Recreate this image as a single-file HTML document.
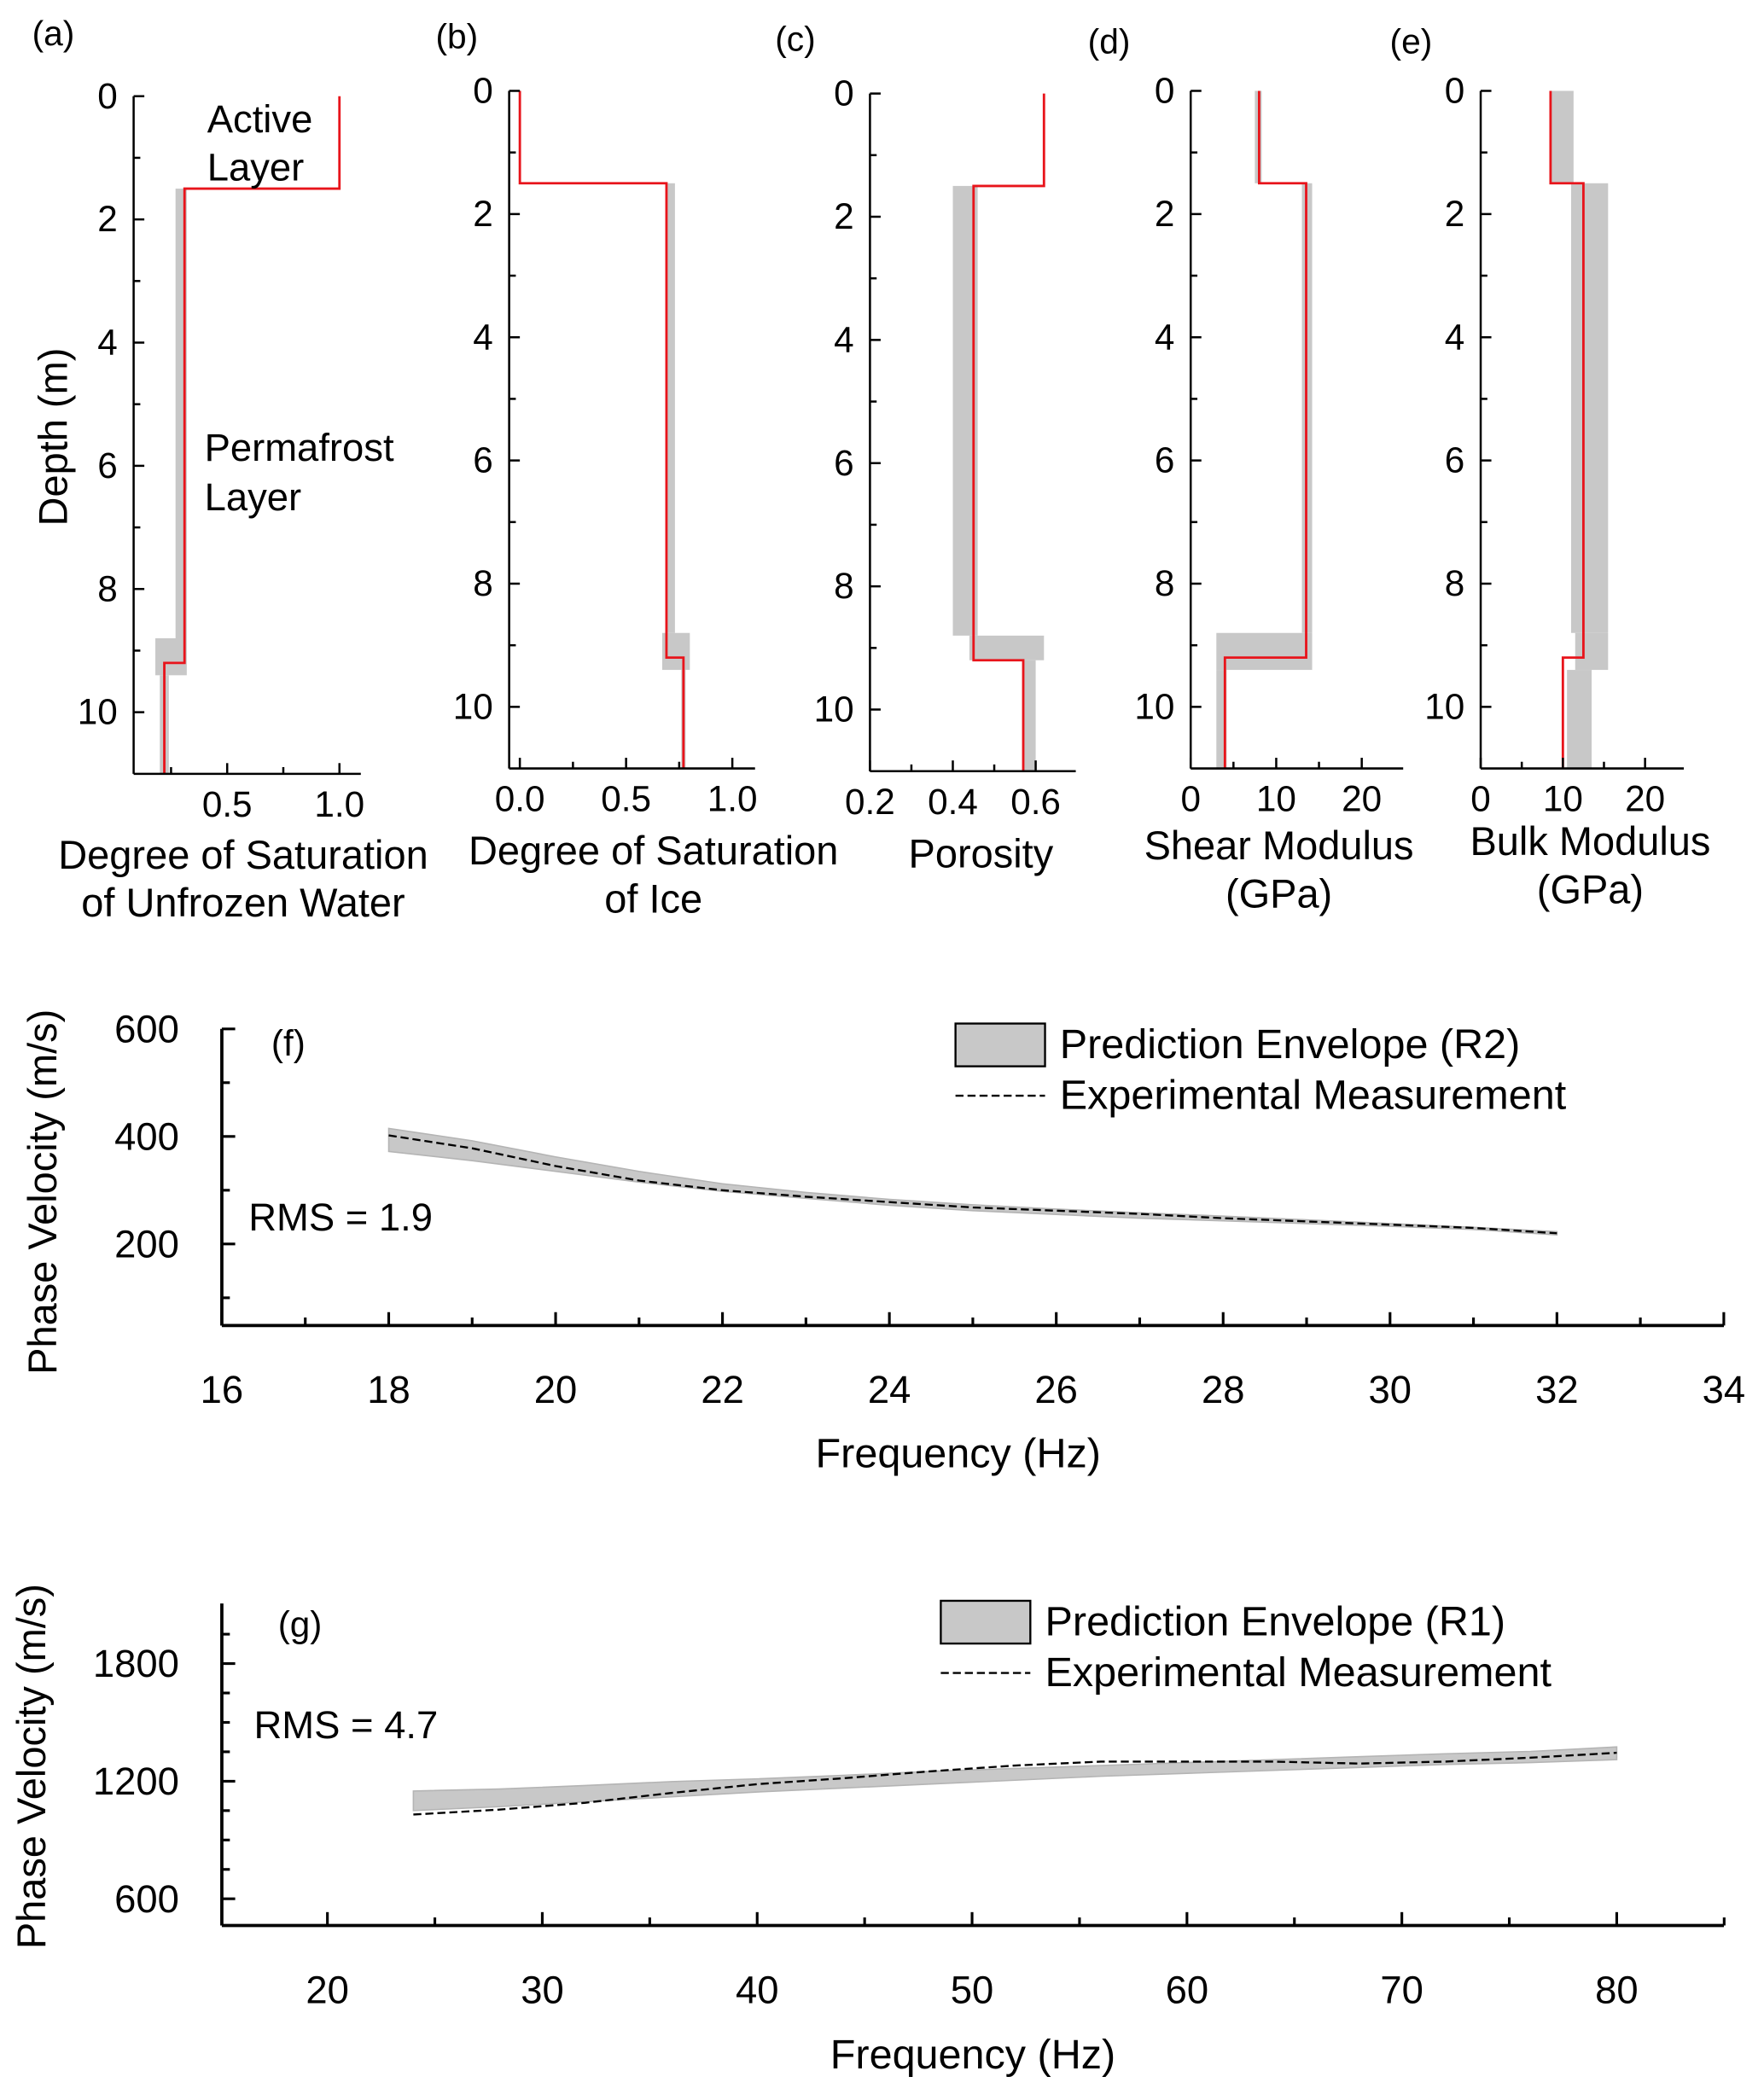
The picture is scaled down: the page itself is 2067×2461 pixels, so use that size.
<!DOCTYPE html>
<html><head><meta charset="utf-8"><style>
html,body{margin:0;padding:0;background:#fff}
svg{display:block;font-family:"Liberation Sans",Arial,sans-serif}
</style></head><body>
<svg id="fig" width="2067" height="2461" viewBox="0 0 1320 1571.6" xmlns="http://www.w3.org/2000/svg"></svg>
<script>
// ---- profile data (depth boundaries) ----
const depthTicks=[0,2,4,6,8,10];
// red step profiles: values for layers [0-1.5],[1.5-9.2],[9.2-11]
const satWater=[1.0,0.31,0.22];
const satIce=[0.0,0.69,0.77];
const porosity=[0.62,0.45,0.57];
const shearMod=[8,13.5,4];
const bulkMod=[8.5,12.5,10];
// grey envelopes: [depthTop, depthBot, min, max]
const envWater=[[1.5,8.8,0.27,0.32],[8.8,9.4,0.18,0.32],[9.4,11,0.2,0.24]];
const envIce=[[1.5,8.8,0.69,0.73],[8.8,9.4,0.67,0.8],[9.4,11,0.76,0.78]];
const envPor=[[1.5,8.8,0.4,0.46],[8.8,9.2,0.44,0.62],[9.2,11,0.57,0.6]];
const envShear=[[0,1.5,7.5,8.3],[1.5,8.8,13,14.2],[8.8,9.4,3,14.2],[9.4,11,3,4.2]];
const envBulk=[[0,1.5,8.5,11.3],[1.5,8.8,11,15.5],[8.8,9.4,11.5,15.5],[9.4,11,10.5,13.5]];
// ---- dispersion f ----
const freqF=[18,19,20,21,22,23,24,25,26,27,28,29,30,31,32];
const expF=[402,378,345,318,300,288,278,268,262,256,248,242,236,230,220];
const upF=[415,392,362,335,312,296,283,273,265,258,252,245,238,231,223];
const loF=[372,355,335,315,298,285,272,262,255,248,243,238,233,227,217];
// ---- dispersion g ----
const freqG=[24,28,32,36,40,44,48,52,56,60,64,68,72,76,80];
const expG=[1030,1055,1090,1140,1185,1215,1250,1280,1300,1300,1300,1290,1300,1320,1345];
const upG=[1150,1160,1178,1198,1212,1230,1250,1265,1280,1295,1310,1325,1340,1352,1375];
const loG=[1050,1070,1095,1120,1145,1165,1185,1205,1225,1240,1255,1270,1285,1295,1310];

const svg=document.getElementById('fig');
const NS='http://www.w3.org/2000/svg';
function mk(tag,attrs,parent){const e=document.createElementNS(NS,tag);for(const k in attrs)e.setAttribute(k,attrs[k]);(parent||svg).appendChild(e);return e;}
function txt(s,x,y,size,anchor,name,parent,rot){const t=mk('text',{x:x,y:y,'font-size':size,'text-anchor':anchor||'start',fill:'#000'},parent);if(rot)t.setAttribute('transform',`rotate(-90 ${x} ${y})`);t.textContent=s;


return t;}
function line(x1,y1,x2,y2,parent,w){return mk('line',{x1,y1,x2,y2,stroke:'#000','stroke-width':w||1.6},parent);}

function profile(o){
  const g=mk('g',{});
  
  
  const X=v=>o.x0px+(v-o.x0)*o.sx;
  const Y=d=>o.top+d*46.1;
  o.env.forEach(e=>{const r=mk('rect',{x:X(e[2]),y:Y(e[0]),width:X(e[3])-X(e[2]),height:Y(e[1])-Y(e[0]),fill:'#c8c8c8'},g);
    
    });
  const b=[0,1.5,9.2,11];let p=`M${X(o.vals[0])},${Y(0)}`;
  for(let i=0;i<3;i++){p+=` L${X(o.vals[i])},${Y(b[i])} L${X(o.vals[i])},${Y(b[i+1])}`;}
  const rp=mk('path',{d:p,fill:'none',stroke:'#e8141b','stroke-width':1.8},g);
  
  
  const bottom=Y(11);
  line(o.axL,o.top,o.axL,bottom,g);line(o.axL,bottom,o.axR,bottom,g);
  depthTicks.forEach(d=>{line(o.axL,Y(d),o.axL+8,Y(d),g);txt(String(d),o.axL-12,Y(d)+9,27,'end','depth-tick-label',g);});
  for(let d=1;d<11;d+=2)line(o.axL,Y(d),o.axL+5,Y(d),g);
  o.xt.forEach(v=>{line(X(v),bottom,X(v),bottom-8,g);txt(o.fmt(v),X(v),bottom+32,27,'middle','x-tick-label',g);});
  (o.xm||[]).forEach(v=>line(X(v),bottom,X(v),bottom-5,g));
  txt(o.lab,o.labX,o.labY,26,'start','panel-label',g);
  o.title.forEach((s,i)=>txt(s,o.tx,o.ty+i*36,30,'middle','x-axis-title',g));
}
profile({name:'panel-a-unfrozen-water',vals:satWater,env:envWater,x0:0,x0px:86,sx:168,top:72,axL:100,axR:270,xt:[0.5,1.0],xm:[0.25,0.75],fmt:v=>v.toFixed(1),lab:'(a)',labX:24,labY:34,title:['Degree of Saturation','of Unfrozen Water'],tx:182,ty:650});
profile({name:'panel-b-ice',vals:satIce,env:envIce,x0:0,x0px:389,sx:159,top:68,axL:381,axR:565,xt:[0,0.5,1.0],xm:[0.25,0.75],fmt:v=>v.toFixed(1),lab:'(b)',labX:326,labY:36,title:['Degree of Saturation','of Ice'],tx:489,ty:647});
profile({name:'panel-c-porosity',vals:porosity,env:envPor,x0:0.2,x0px:651,sx:310,top:70,axL:651,axR:805,xt:[0.2,0.4,0.6],xm:[0.3,0.5],fmt:v=>v.toFixed(1),lab:'(c)',labX:580,labY:38,title:['Porosity'],tx:734,ty:649});
profile({name:'panel-d-shear-modulus',vals:shearMod,env:envShear,x0:0,x0px:891,sx:6.4,top:68,axL:891,axR:1050,xt:[0,10,20],xm:[5,15],fmt:v=>String(v),lab:'(d)',labX:814,labY:40,title:['Shear Modulus','(GPa)'],tx:957,ty:643});
profile({name:'panel-e-bulk-modulus',vals:bulkMod,env:envBulk,x0:0,x0px:1108,sx:6.15,top:68,axL:1108,axR:1260,xt:[0,10,20],xm:[5,15],fmt:v=>String(v),lab:'(e)',labX:1040,labY:40,title:['Bulk Modulus','(GPa)'],tx:1190,ty:640});
txt('Depth (m)',50,327,30,'middle','y-axis-title-depth',null,true);
txt('Active',155,99,29,'start','active-layer-label');
txt('Layer',155,135,29,'start','active-layer-label-2');
txt('Permafrost',153,345,29,'start','permafrost-label');
txt('Layer',153,382,29,'start','permafrost-label-2');

function disp(o){
  const g=mk('g',{});
  
  
  const X=f=>o.L+(f-o.f0)*o.sf, Y=v=>o.y0px-(v-o.v0)*o.sv;
  let p='M'+o.freq.map((f,i)=>X(f)+','+Y(o.up[i])).join(' L');
  for(let i=o.freq.length-1;i>=0;i--)p+=` L${X(o.freq[i])},${Y(o.lo[i])}`;
  const e=mk('path',{d:p+'Z',fill:'#c8c8c8',stroke:'#b4b4b4','stroke-width':1},g);
  
  
  const l=mk('path',{d:'M'+o.freq.map((f,i)=>X(f)+','+Y(o.exp[i])).join(' L'),fill:'none',stroke:'#000','stroke-width':1.5,'stroke-dasharray':'6,3'},g);
  
  
  line(o.L,o.T,o.L,o.B,g,2.4);line(o.L,o.B,o.R,o.B,g,2.4);
  o.xt.forEach(f=>{line(X(f),o.B,X(f),o.B-10,g,2);txt(String(f),X(f),o.B+58,29,'middle','x-tick-label',g);});
  o.xm.forEach(f=>line(X(f),o.B,X(f),o.B-6,g,2));
  o.yt.forEach(v=>{line(o.L,Y(v),o.L+10,Y(v),g,2);txt(String(v),o.L-32,Y(v)+10,29,'end','y-tick-label',g);});
  o.ym.forEach(v=>line(o.L,Y(v),o.L+6,Y(v),g,2));
  txt('Frequency (Hz)',o.xtX,o.xtY,31,'middle','x-axis-title',g);
  txt('Phase Velocity (m/s)',o.ytX,o.ytY,30,'middle','y-axis-title',g,true);
  txt(o.lab,o.labX,o.labY,27,'start','panel-label',g);
  txt(o.rms,o.rX,o.rY,29,'start','rms-label',g);
  const lr=mk('rect',{x:o.lgX,y:o.lgY,width:67,height:32,fill:'#c8c8c8',stroke:'#000','stroke-width':1.5},g);
  
  
  txt(o.lgText,o.lgX+78,o.lgY+26,31,'start','legend-entry',g);
  const ll=mk('line',{x1:o.lgX,y1:o.lgY+54,x2:o.lgX+67,y2:o.lgY+54,stroke:'#000','stroke-width':1.5,'stroke-dasharray':'6,3'},g);
  
  
  txt('Experimental Measurement',o.lgX+78,o.lgY+64,31,'start','legend-entry',g);
}
disp({name:'panel-f-dispersion',freq:freqF,exp:expF,up:upF,lo:loF,L:166,R:1290,T:770,B:992,f0:16,sf:62.44,v0:600,y0px:770,sv:0.4025,
 xt:[16,18,20,22,24,26,28,30,32,34],xm:[17,19,21,23,25,27,29,31,33],yt:[600,400,200],ym:[500,300,100],
 xtX:717,xtY:1098,ytX:42,ytY:892,lab:'(f)',labX:203,labY:790,rms:'RMS = 1.9',rX:186,rY:921,lgX:715,lgY:766,lgText:'Prediction Envelope (R2)'});
disp({name:'panel-g-dispersion',freq:freqG,exp:expG,up:upG,lo:loG,L:166,R:1290,T:1200,B:1441,f0:15.087,sf:16.08,v0:1800,y0px:1245,sv:0.1467,
 xt:[20,30,40,50,60,70,80],xm:[25,35,45,55,65,75,85],yt:[1800,1200,600],ym:[1950,1650,1500,1350,1050,900,750],
 xtX:728,xtY:1548,ytX:34,ytY:1322,lab:'(g)',labX:208,labY:1225,rms:'RMS = 4.7',rX:190,rY:1301,lgX:704,lgY:1198,lgText:'Prediction Envelope (R1)'});
</script>
</body></html>
